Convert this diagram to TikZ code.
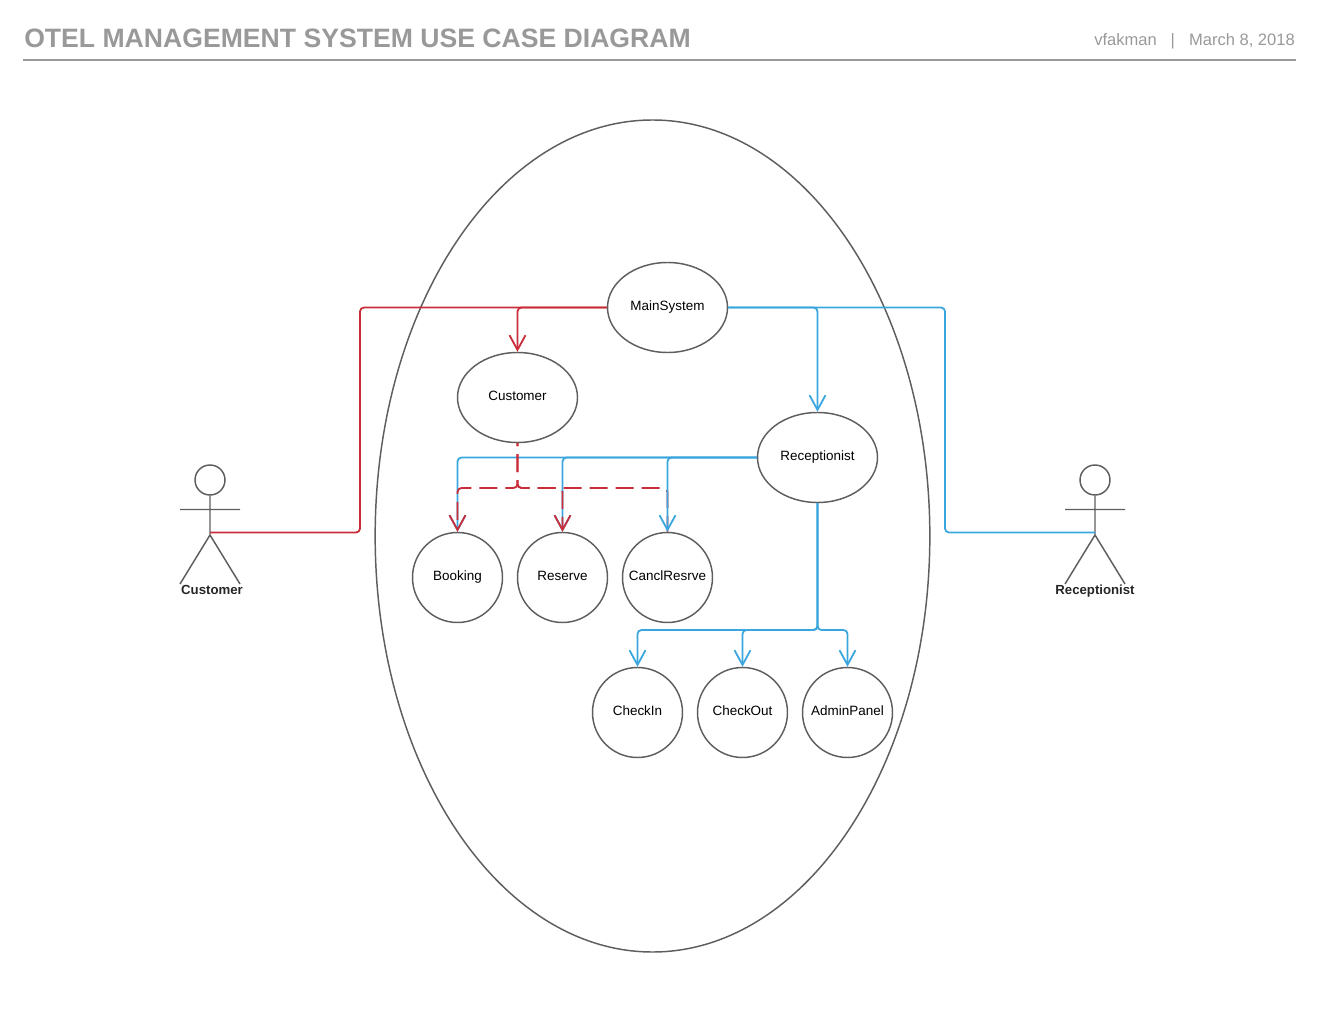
\documentclass[tikz,border=0pt]{standalone}
\usepackage{fontspec}
\setmainfont{Liberation Sans}
\usetikzlibrary{arrows.meta,shapes.geometric}
\definecolor{LineGray}{HTML}{5E5E5E}
\definecolor{TitleGray}{HTML}{999999}
\definecolor{UseRed}{HTML}{C92D39}
\definecolor{UseBlue}{HTML}{3AA6DD}
\tikzset{
  usecase/.style={draw=LineGray, line width=1.1pt, shape=ellipse, minimum width=90pt, minimum height=67.5pt, inner sep=-12pt, text height=6pt, text depth=2pt, font=\fontsize{10.1}{12}\selectfont, text=black},
  roundcase/.style={usecase, minimum width=67.5pt},
  boundary/.style={draw=LineGray, line width=1.1pt, shape=ellipse, minimum width=416pt, minimum height=624pt, inner sep=0pt},
  actorhead/.style={draw=LineGray, line width=1.1pt, shape=circle, minimum size=22.5pt, inner sep=0pt},
  actorline/.style={draw=LineGray, line width=1.1pt},
  actorlab/.style={text height=7pt, text depth=2pt, font=\fontsize{9.9}{12}\selectfont\bfseries, text=black!85},
  redlink/.style={draw=UseRed, line width=1.35pt, rounded corners=3pt},
  bluelink/.style={draw=UseBlue, line width=1.35pt, rounded corners=3pt},
  forkdash/.style={dash pattern=on 13.5pt off 6pt, dash phase=11.25pt},
  openarrow/.style={-{Straight Barb[length=11pt, width=12pt, line width=1.35pt]}},
}
\begin{document}
\begin{tikzpicture}[x=0.75pt, y=-0.75pt]
    \useasboundingbox (0,0) rectangle (1318,1016);
    % header
    \node[anchor=base west, inner sep=0pt, text=TitleGray, font=\fontsize{19.95}{24}\selectfont\bfseries] (Title) at (24,48) {OTEL MANAGEMENT SYSTEM USE CASE DIAGRAM};
    \node[anchor=base east, inner sep=0pt, text=TitleGray, font=\fontsize{12.4}{15}\selectfont] (Stamp) at (1295,46) {vfakman\hspace{10.5pt}|\hspace{10.5pt}March 8, 2018};
    \draw[draw=TitleGray, line width=1.5pt] (23,60) -- (1296,60);
    % system boundary
    \node[boundary] (System) at (652.5,536) {};
    % use cases
    \node[usecase] (MainSystem) at (667.5,307.5) {MainSystem};
    \node[usecase] (CustomerCase) at (517.5,397.5) {Customer};
    \node[usecase] (ReceptionistCase) at (817.5,457.5) {Receptionist};
    \node[roundcase] (Booking) at (457.5,577.5) {Booking};
    \node[roundcase] (Reserve) at (562.5,577.5) {Reserve};
    \node[roundcase] (CanclResrve) at (667.5,577.5) {CanclResrve};
    \node[roundcase] (CheckIn) at (637.5,712.5) {CheckIn};
    \node[roundcase] (CheckOut) at (742.5,712.5) {CheckOut};
    \node[roundcase] (AdminPanel) at (847.5,712.5) {AdminPanel};
    % actors
    \node[actorhead] (CustomerHead) at (210,480) {};
    \draw[actorline] (CustomerHead.south) -- (210,535) -- (180,584) (210,535) -- (240,584) (180,509.5) -- (240,509.5);
    \node[actorlab] (CustomerLab) at (212,591) {Customer};
    \coordinate (CustomerHip) at (210,532.5);
    \node[actorhead] (ReceptionistHead) at (1095,480) {};
    \draw[actorline] (ReceptionistHead.south) -- (1095,535) -- (1065,584) (1095,535) -- (1125,584) (1065,509.5) -- (1125,509.5);
    \node[actorlab] (ReceptionistLab) at (1095,591) {Receptionist};
    \coordinate (ReceptionistHip) at (1095,532.5);
    % links from the main system
    \coordinate (RedBend) at (360,307.5);
    \coordinate (BlueBend) at (945,307.5);
    \draw[redlink] (MainSystem.west) -- (RedBend) |- (CustomerHip);
    \draw[redlink, openarrow] (MainSystem.west) -| (CustomerCase.north);
    \draw[bluelink] (MainSystem.east) -- (BlueBend) |- (ReceptionistHip);
    \draw[bluelink, openarrow] (MainSystem.east) -| (ReceptionistCase.north);
    % receptionist down to customer cases
    \draw[bluelink, openarrow] (ReceptionistCase.west) -| (Booking.north);
    \draw[bluelink, openarrow] (ReceptionistCase.west) -| (Reserve.north);
    % customer down to its cases
    \coordinate (RedFork) at (517.5,488);
    \draw[redlink, forkdash, openarrow] (CustomerCase.south) -- (RedFork) -| (Booking.north);
    \draw[redlink, forkdash, openarrow] (CustomerCase.south) -- (RedFork) -| (Reserve.north);
    \draw[redlink, forkdash] (CustomerCase.south) -- (RedFork) -| (CanclResrve.north);
    \draw[bluelink, openarrow] (ReceptionistCase.west) -| (CanclResrve.north);
    % receptionist down to its cases
    \coordinate (BlueFork) at (817.5,630);
    \draw[bluelink, openarrow] (ReceptionistCase.south) -- (BlueFork) -| (CheckIn.north);
    \draw[bluelink, openarrow] (ReceptionistCase.south) -- (BlueFork) -| (CheckOut.north);
    \draw[bluelink, openarrow] (ReceptionistCase.south) -- (BlueFork) -| (AdminPanel.north);
\end{tikzpicture}
\end{document}
